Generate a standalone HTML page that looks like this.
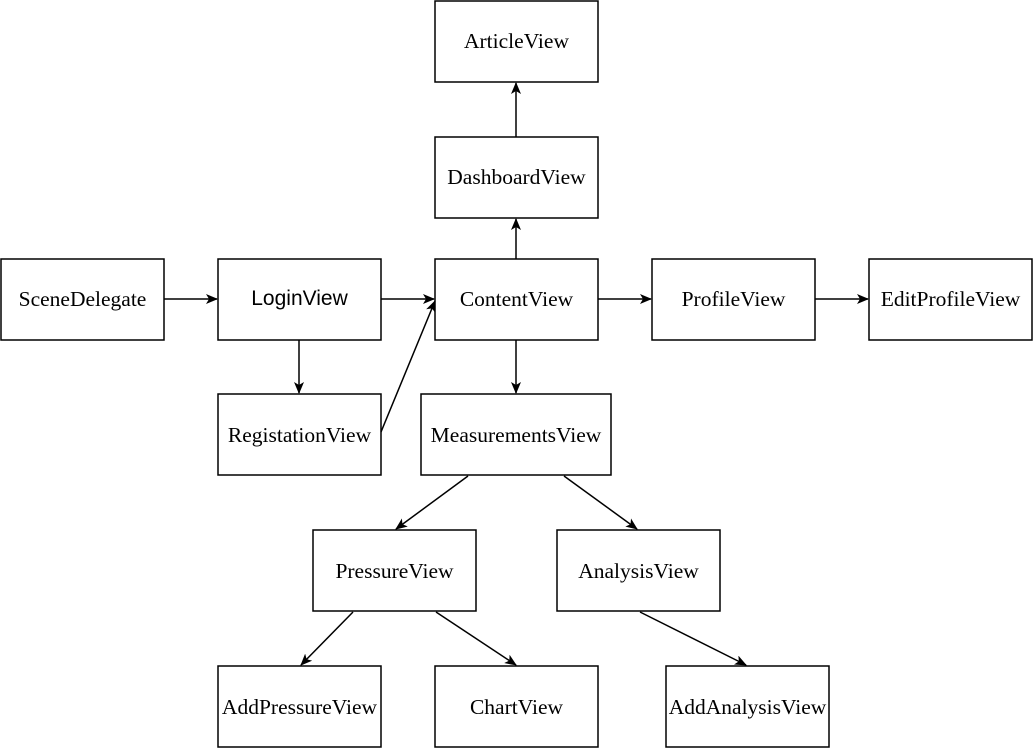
<!DOCTYPE html>
<html><head><meta charset="utf-8"><style>
html,body{margin:0;padding:0;background:#fff;}
svg{display:block;}
text{font-family:"Liberation Serif",serif;font-size:21.5px;fill:#000;}
</style></head><body>
<svg width="1033" height="750" viewBox="0 0 1033 750" xmlns="http://www.w3.org/2000/svg">
<defs>
<marker id="a" markerWidth="12" markerHeight="10" refX="11" refY="5" orient="auto" markerUnits="userSpaceOnUse">
<path d="M0,0 L12,5 L0,10 L3,5 Z" fill="#000"/>
</marker>
</defs>
<g fill="#fff" stroke="#000" stroke-width="1.5">
<rect x="435" y="1" width="163" height="81"/>
<rect x="435" y="137" width="163" height="81"/>
<rect x="1" y="259" width="163" height="81"/>
<rect x="218" y="259" width="163" height="81"/>
<rect x="435" y="259" width="163" height="81"/>
<rect x="652" y="259" width="163" height="81"/>
<rect x="869" y="259" width="163" height="81"/>
<rect x="218" y="394" width="163" height="81"/>
<rect x="421" y="394" width="190" height="81"/>
<rect x="313" y="530" width="163" height="81"/>
<rect x="557" y="530" width="163" height="81"/>
<rect x="218" y="666" width="163" height="81"/>
<rect x="435" y="666" width="163" height="81"/>
<rect x="666" y="666" width="163" height="81"/>
</g>
<g stroke="#000" stroke-width="1.5" fill="none" marker-end="url(#a)">
<line x1="164" y1="299" x2="217" y2="299"/>
<line x1="381" y1="299" x2="434" y2="299"/>
<line x1="598" y1="299" x2="651" y2="299"/>
<line x1="815" y1="299" x2="868" y2="299"/>
<line x1="516" y1="259" x2="516" y2="219"/>
<line x1="516" y1="137" x2="516" y2="83"/>
<line x1="299" y1="340" x2="299" y2="393"/>
<line x1="516" y1="340" x2="516" y2="393"/>
<line x1="381" y1="432" x2="435" y2="301"/>
<line x1="468" y1="476" x2="396" y2="529"/>
<line x1="564" y1="476" x2="637" y2="529"/>
<line x1="353" y1="612" x2="301" y2="665"/>
<line x1="436" y1="612" x2="516" y2="665"/>
<line x1="640" y1="612" x2="746" y2="665"/>
</g>
<g text-anchor="middle">
<text x="516.5" y="48">ArticleView</text>
<text x="516.5" y="184">DashboardView</text>
<text x="82.5" y="306">SceneDelegate</text>
<text x="299.5" y="305" style="font-family:'Liberation Sans',sans-serif;font-size:21px">LoginView</text>
<text x="516.5" y="306">ContentView</text>
<text x="733.5" y="306">ProfileView</text>
<text x="950.5" y="306">EditProfileView</text>
<text x="299.5" y="442">RegistationView</text>
<text x="516" y="442">MeasurementsView</text>
<text x="394.5" y="578">PressureView</text>
<text x="638.5" y="578">AnalysisView</text>
<text x="299.5" y="714">AddPressureView</text>
<text x="516.5" y="714">ChartView</text>
<text x="747.5" y="714">AddAnalysisView</text>
</g>
</svg>
</body></html>
